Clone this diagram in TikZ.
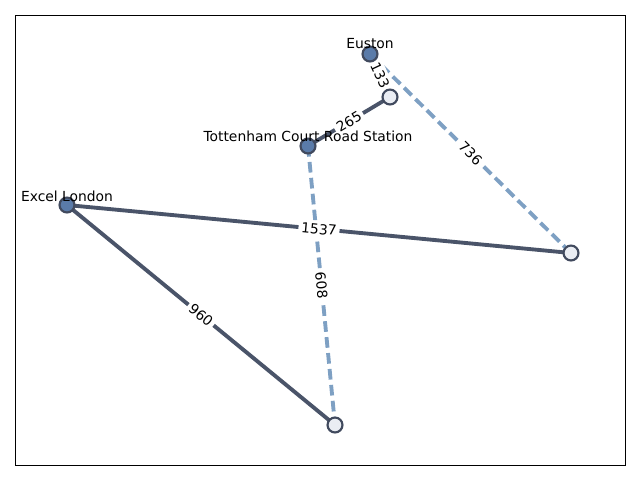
\documentclass[tikz,border=0pt]{standalone}
\usepackage{fontspec}
\setmainfont{DejaVu Sans}
\definecolor{edgedark}{HTML}{4A5469}
\definecolor{edgelight}{HTML}{7EA0C3}
\definecolor{nodefill}{HTML}{5A7BA9}
\definecolor{nodeline}{HTML}{414A5E}
\definecolor{nodewhite}{HTML}{EAEDF3}
\pgfdeclarelayer{bg}
\pgfsetlayers{bg,main}
\begin{document}
\begin{tikzpicture}[x=0.75pt,y=-0.75pt,
  every node/.style={font=\fontsize{10.4}{12}\selectfont},
  station/.style={circle,draw=nodeline,line width=1.6pt,fill=nodefill,inner sep=0pt,minimum size=11.2pt},
  stop/.style={circle,draw=nodeline,line width=1.6pt,fill=nodewhite,inner sep=0pt,minimum size=11.2pt},
  solidedge/.style={draw=edgedark,line width=2.9pt},
  dashedge/.style={draw=edgelight,line width=2.9pt,dash pattern=on 8pt off 4pt},
  elabel/.style={fill=white,inner sep=2.2pt,sloped,midway,rounded corners=2pt},
  nlabel/.style={inner sep=0pt}]
\useasboundingbox (0,0) rectangle (640,480);
\draw[line width=0.6pt] (15,15) rectangle (625,465);
% nodes
\node[station] (euston) at (370,54) {};
\node[stop] (a) at (390,97) {};
\node[station] (tcr) at (308,146) {};
\node[station] (excel) at (67,205) {};
\node[stop] (b) at (571,253) {};
\node[stop] (c) at (335,425) {};
% node labels
\node[nlabel] (leuston) at (370,44) {Euston};
\node[nlabel] (ltcr) at (308,136) {Tottenham Court Road Station};
\node[nlabel] (lexcel) at (67,196) {Excel London};
\begin{pgfonlayer}{bg}
\path[dashedge] (euston.center) -- (b.center);
\path[dashedge] (tcr.center) -- (c.center);
\path[solidedge] (euston.center) -- (a.center);
\path[solidedge] (a.center) -- (tcr.center);
\path[solidedge] (excel.center) -- (b.center);
\path[solidedge] (excel.center) -- (c.center);
\path (euston.center) -- (b.center) node[elabel] (l736) {736};
\path (tcr.center) -- (c.center) node[elabel] (l608) {608};
\path (euston.center) -- (a.center) node[elabel] (l133) {133};
\path (a.center) -- (tcr.center) node[elabel] (l265) {265};
\path (excel.center) -- (b.center) node[elabel] (l1537) {1537};
\path (excel.center) -- (c.center) node[elabel] (l960) {960};
\end{pgfonlayer}
\end{tikzpicture}
\end{document}
